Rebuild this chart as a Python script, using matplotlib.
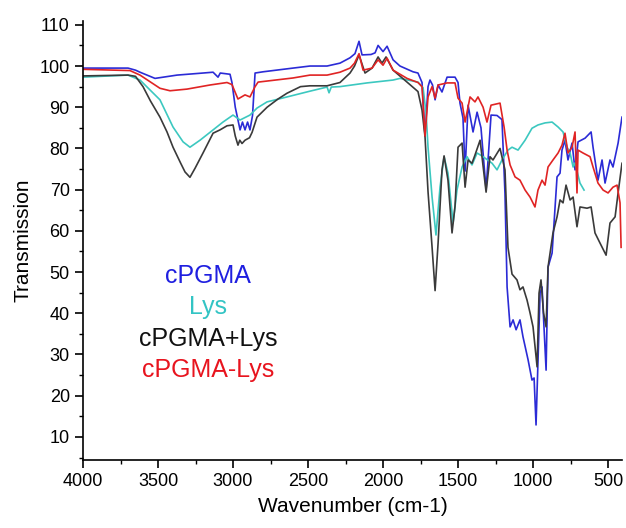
import numpy as np
import matplotlib
matplotlib.use("Agg")
from matplotlib import pyplot as plt
from matplotlib.ticker import MultipleLocator

plt.rcParams['font.family'] = ['Liberation Sans', 'DejaVu Sans']

# cPGMA (blue)
wn_cpgma = [4000, 3700, 3650, 3620, 3520, 3373, 3200, 3133, 3100, 3085, 3020, 3007, 2985,
            2953, 2937, 2920, 2903, 2887, 2870, 2853, 2800, 2600, 2487, 2373, 2287, 2220,
            2187, 2160, 2140, 2080, 2053, 2033, 2000, 1973, 1933, 1887, 1800, 1767, 1740,
            1720, 1700, 1687, 1670, 1653, 1633, 1607, 1573, 1520, 1500, 1487, 1467, 1453,
            1433, 1400, 1373, 1347, 1313, 1280, 1240, 1207, 1187, 1173, 1153, 1133, 1113,
            1087, 1067, 1033, 1007, 993, 980, 953, 940, 913, 900, 873, 840, 820, 807, 787,
            767, 740, 720, 700, 653, 613, 600, 567, 540, 520, 487, 467, 433, 407]
t_cpgma = [99.5, 99.5, 99.0, 98.5, 97.0, 97.8, 98.3, 98.5, 97.3, 98.3, 98.0, 96.0, 90.0,
           84.5, 86.4, 84.5, 86.4, 84.5, 88.0, 98.3, 98.6, 99.5, 100.0, 100.0, 100.7, 102.0,
           103.0, 106.0, 102.7, 102.8, 103.2, 105.0, 103.5, 104.8, 101.5, 100.0, 98.6, 98.3, 96.0,
           83.0, 95.0, 96.6, 95.4, 91.8, 95.4, 93.7, 97.3, 97.3, 96.0, 91.0, 87.4, 74.5,
           90.5, 84.0, 88.8, 85.0, 70.0, 88.1, 88.0, 87.0, 69.0, 46.4, 36.7, 38.4, 36.0,
           38.4, 34.3, 28.7, 23.8, 24.3, 12.9, 44.9, 46.4, 26.2, 51.2, 54.6, 73.1, 74.0, 79.6, 82.0,
           77.2, 81.3, 74.8, 81.6, 82.5, 84.0, 80.3, 72.3, 77.2, 71.6, 77.2, 75.5, 81.3, 87.6]

# Lys (cyan)
wn_lys = [4000, 3700, 3620, 3487, 3400, 3333, 3287, 3220, 3133, 3067, 3000, 2953, 2887,
          2840, 2773, 2640, 2487, 2373, 2360, 2345, 2287, 2107, 1933, 1887, 1767, 1733,
          1713, 1700, 1673, 1647, 1620, 1593, 1567, 1533, 1507, 1473, 1440, 1407, 1373,
          1333, 1273, 1240, 1207, 1167, 1140, 1100, 1053, 1007, 967, 920, 873, 833, 800,
          773, 753, 733, 720, 687, 660]
t_lys = [97.3, 97.8, 96.6, 91.8, 85.2, 81.6, 80.3, 82.0, 84.5, 86.4, 88.1, 86.9, 88.1,
         89.8, 91.3, 92.5, 93.9, 94.9, 93.5, 94.9, 95.0, 95.9, 96.6, 97.0, 96.1, 94.7,
         88.6, 80.3, 68.2, 59.0, 70.6, 78.0, 74.0, 61.9, 69.9, 75.5, 78.0, 76.0, 78.9,
         78.0, 76.4, 74.8, 77.2, 79.6, 80.3, 79.6, 82.0, 84.9, 85.7, 86.2, 86.4, 85.2, 84.0,
         80.3, 78.9, 75.5, 76.5, 71.6, 69.9]

# cPGMA+Lys (black)
wn_mix = [4000, 3700, 3650, 3600, 3550, 3487, 3440, 3400, 3350, 3320, 3287, 3253, 3200,
          3133, 3087, 3040, 3000, 2985, 2967, 2955, 2940, 2920, 2890, 2873, 2840, 2773,
          2700, 2640, 2550, 2487, 2373, 2287, 2220, 2190, 2160, 2120, 2073, 2033, 2007,
          1980, 1933, 1840, 1767, 1740, 1720, 1700, 1673, 1653, 1633, 1607, 1593, 1567,
          1540, 1520, 1500, 1473, 1453, 1433, 1407, 1387, 1353, 1313, 1287, 1267, 1220,
          1187, 1167, 1140, 1107, 1087, 1067, 1040, 1020, 1000, 973, 960, 947, 930, 913,
          900, 867, 840, 820, 800, 780, 753, 733, 707, 687, 640, 613, 587, 553, 513, 487,
          453, 433, 407]
t_mix = [97.6, 97.8, 97.5, 95.0, 91.5, 87.6, 84.0, 80.3, 76.5, 74.3, 73.0, 75.2, 78.9,
         83.7, 84.5, 85.5, 85.7, 83.0, 80.8, 82.0, 81.2, 82.0, 82.6, 83.9, 87.6, 90.0,
         92.0, 93.4, 95.0, 95.2, 95.2, 96.0, 98.3, 100.0, 102.7, 98.3, 99.5, 102.2, 100.7,
         102.2, 99.0, 96.1, 93.8, 89.3, 82.8, 69.5, 56.0, 45.5, 57.0, 74.8, 78.2, 72.3,
         59.5, 66.0, 80.3, 81.3, 70.6, 77.2, 76.4, 78.4, 82.0, 69.4, 78.0, 77.2, 80.0,
         74.8, 56.0, 49.5, 48.1, 45.7, 46.4, 43.2, 40.1, 36.7, 27.0, 44.9, 48.1, 40.1, 36.7,
         51.2, 59.5, 63.4, 67.5, 66.8, 71.1, 67.5, 68.2, 61.0, 65.8, 65.5, 65.8, 59.5, 57.0, 54.1, 61.9,
         63.4, 69.2, 76.4]

# cPGMA-Lys (red)
wn_conj = [4000, 3687, 3620, 3487, 3420, 3307, 3153, 3040, 3007, 2967, 2920, 2887, 2853,
           2833, 2600, 2487, 2373, 2287, 2220, 2190, 2160, 2133, 2073, 2033, 2000, 1973,
           1933, 1840, 1767, 1740, 1720, 1700, 1673, 1653, 1633, 1573, 1520, 1500, 1473,
           1453, 1420, 1387, 1367, 1333, 1307, 1280, 1220, 1193, 1173, 1153, 1120, 1087,
           1053, 1020, 987, 967, 940, 920, 900, 867, 833, 807, 787, 767, 740, 720, 707,
           700, 667, 620, 600, 567, 533, 500, 467, 440, 420, 413]
t_conj = [99.2, 98.9, 97.8, 94.6, 94.0, 94.4, 95.4, 96.0, 95.5, 92.0, 93.0, 92.5, 95.0,
          96.1, 97.1, 97.8, 97.8, 98.5, 99.5, 100.7, 103.0, 99.0, 99.5, 101.5, 100.2, 101.9,
          99.0, 97.0, 96.0, 95.0, 83.0, 92.5, 95.0, 92.2, 95.4, 95.9, 95.9, 92.2, 91.0,
          86.4, 92.5, 91.3, 92.5, 90.0, 86.4, 90.5, 91.0, 85.2, 79.6, 76.0, 73.1, 72.3,
          69.9, 68.2, 65.8, 69.9, 72.3, 71.1, 75.5, 77.2, 78.9, 80.8, 83.7, 78.9, 80.3, 84.0, 69.2,
          79.6, 78.9, 78.0, 75.5, 71.6, 69.9, 69.2, 70.6, 71.1, 66.8, 56.0]

labels = ["cPGMA", "Lys", "cPGMA+Lys", "cPGMA-Lys"]
colors = ["#2b2bd6", "#3cc8c0", "#3a3a3a", "#e02424"]
text_colors = ["#1f1fe0", "#33c4c4", "#111111", "#e8141e"]

fig = plt.figure(figsize=(6.26, 5.28), dpi=100)
ax = fig.add_axes([0.1326, 0.1288, 0.861, 0.832])

ax.plot(wn_cpgma, t_cpgma, color=colors[0], lw=1.2)
ax.plot(wn_lys, t_lys, color=colors[1], lw=1.2)
ax.plot(wn_mix, t_mix, color=colors[2], lw=1.2)
ax.plot(wn_conj, t_conj, color=colors[3], lw=1.2)

# stacked coloured labels instead of a legend box
label_y = [49, 41.5, 33.8, 26.3]
for lab, ly, c in zip(labels, label_y, text_colors):
    ax.text(3167, ly, lab, color=c, fontsize=18, ha='center', va='center')

ax.set_xlim(4000, 407)
ax.set_ylim(4.4, 111)
ax.xaxis.set_major_locator(MultipleLocator(500))
ax.xaxis.set_minor_locator(MultipleLocator(250))
ax.yaxis.set_major_locator(MultipleLocator(10))
ax.yaxis.set_minor_locator(MultipleLocator(5))
ax.set_yticks(np.arange(10, 111, 10))

ax.spines['top'].set_visible(False)
ax.spines['right'].set_visible(False)
for s in ['left', 'bottom']:
    ax.spines[s].set_linewidth(1.2)
ax.tick_params(which='major', direction='out', length=6, width=1.2, labelsize=13)
ax.tick_params(which='minor', direction='out', length=3, width=1.0)

ax.set_xlabel("Wavenumber (cm-1)", fontsize=15, labelpad=5)
ax.set_ylabel("Transmission", fontsize=15, labelpad=5)

fig.savefig("out.png", dpi=100)
